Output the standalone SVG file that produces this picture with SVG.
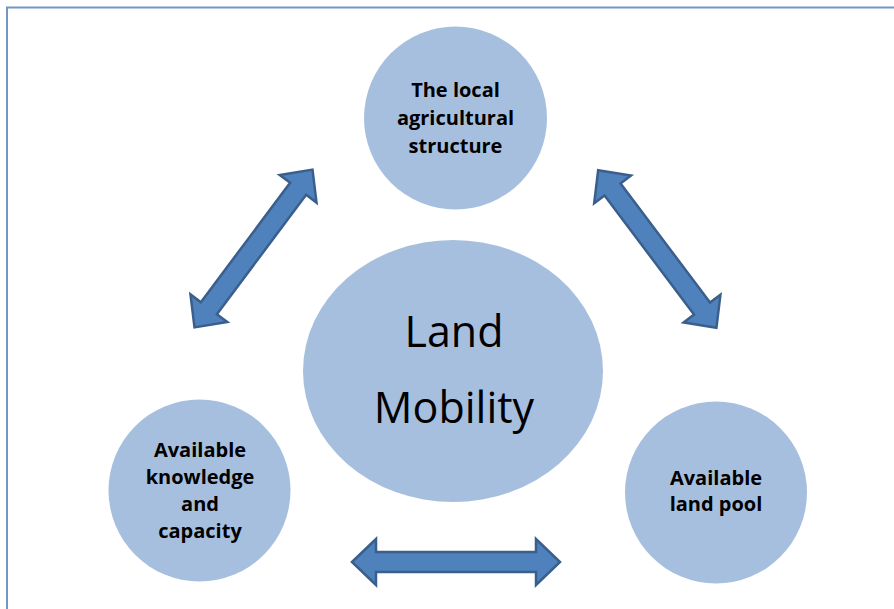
<svg xmlns="http://www.w3.org/2000/svg" width="894" height="609" viewBox="0 0 894 609">
<style>
.node{fill:#a7bfde}
.lbl{font-family:"Open Sans","Liberation Sans",sans-serif;font-weight:700;font-size:20px;fill:#000;text-anchor:middle}
.big{font-family:"Open Sans","Liberation Sans",sans-serif;font-weight:400;font-size:43px;fill:#000;text-anchor:middle}
.arr{fill:#4f81bd;stroke:#3a5f8c;stroke-width:2.5;stroke-linejoin:miter}
</style>
<rect width="894" height="609" fill="#fff"/>
<path d="M7,609 V7.5 H894" fill="none" stroke="#7396c8" stroke-width="2"/>
<g id="connectors">
<path class="arr" transform="translate(456,562)" d="M-104,0 L-80,-23 L-80,-10 L80,-10 L80,-23 L104,0 L80,23 L80,10 L-80,10 L-80,23 Z"/>
<path class="arr" transform="translate(253.5,248.5) rotate(-53.2)" d="M-98.5,0 L-74.5,-23 L-74.5,-10 L74.5,-10 L74.5,-23 L98.5,0 L74.5,23 L74.5,10 L-74.5,10 L-74.5,23 Z"/>
<path class="arr" transform="translate(657.3,249) rotate(53.1)" d="M-98.5,0 L-74.5,-23 L-74.5,-10 L74.5,-10 L74.5,-23 L98.5,0 L74.5,23 L74.5,10 L-74.5,10 L-74.5,23 Z"/>
</g>
<g id="node-top">
<circle class="node" cx="455.5" cy="118" r="91.5"/>
<text class="lbl" x="455.5" y="97">The local</text>
<text class="lbl" x="455.5" y="125">agricultural</text>
<text class="lbl" x="455.5" y="153">structure</text>
</g>
<g id="node-center">
<ellipse class="node" cx="453" cy="371" rx="150" ry="131"/>
<text class="big" x="454" y="347">Land</text>
<text class="big" x="454" y="423">Mobility</text>
</g>
<g id="node-left">
<circle class="node" cx="199.5" cy="490.5" r="91"/>
<text class="lbl" x="200" y="457">Available</text>
<text class="lbl" x="200" y="484">knowledge</text>
<text class="lbl" x="200" y="511">and</text>
<text class="lbl" x="200" y="538">capacity</text>
</g>
<g id="node-right">
<circle class="node" cx="716" cy="492.5" r="91"/>
<text class="lbl" x="716" y="485">Available</text>
<text class="lbl" x="716" y="511">land pool</text>
</g>
</svg>
